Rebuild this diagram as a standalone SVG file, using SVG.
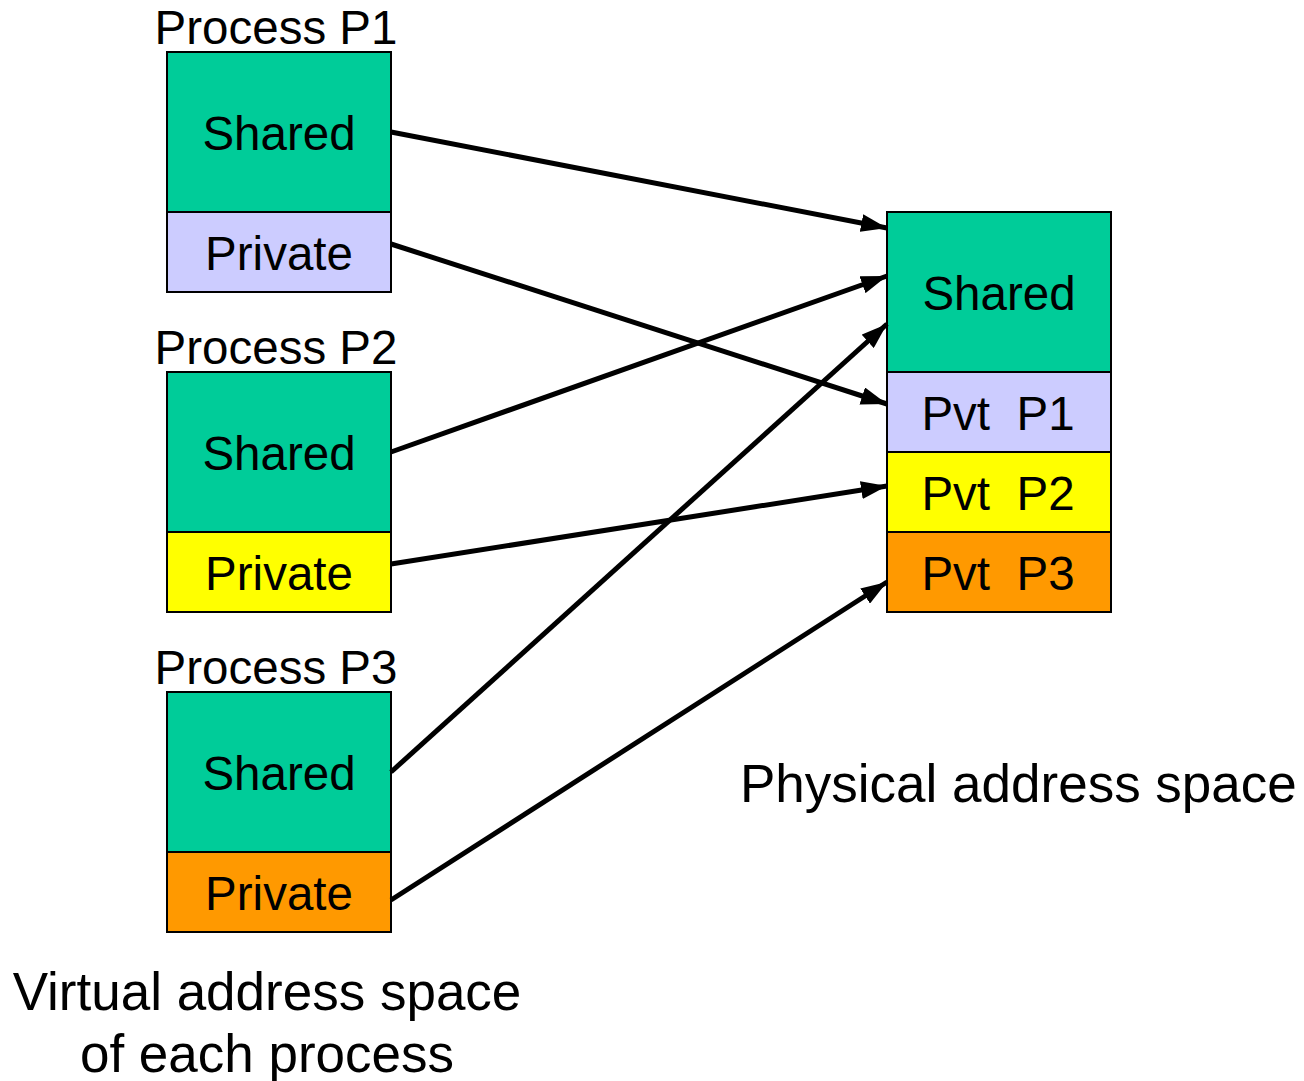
<svg xmlns="http://www.w3.org/2000/svg" width="1304" height="1081" viewBox="0 0 1304 1081">
<style>
text{font-family:"Liberation Sans",Arial,sans-serif;fill:#000;white-space:pre}
.b{font-size:47.5px;text-anchor:middle}
.l{font-size:53px}
rect{stroke:#000;stroke-width:2}
.sh{fill:#00CC99}.p1{fill:#CCCCFF}.p2{fill:#FFFF00}.p3{fill:#FF9900}
.c line{stroke:#000;stroke-width:5;marker-end:url(#ah)}
</style>
<defs>
<marker id="ah" markerUnits="userSpaceOnUse" viewBox="0 0 26 18" refX="26" refY="9" markerWidth="26" markerHeight="18" orient="auto">
<path d="M0,0 L26,9 L0,18 Z" fill="#000"/>
</marker>
</defs>
<rect width="1304" height="1081" fill="#fff" style="stroke:none"/>
<g id="vp1">
<text class="b" x="276" y="44">Process P1</text>
<rect class="sh" x="167" y="52" width="224" height="160"/>
<text class="b" x="279" y="150">Shared</text>
<rect class="p1" x="167" y="212" width="224" height="80"/>
<text class="b" x="279" y="270">Private</text>
</g>
<g id="vp2">
<text class="b" x="276" y="364">Process P2</text>
<rect class="sh" x="167" y="372" width="224" height="160"/>
<text class="b" x="279" y="470">Shared</text>
<rect class="p2" x="167" y="532" width="224" height="80"/>
<text class="b" x="279" y="590">Private</text>
</g>
<g id="vp3">
<text class="b" x="276" y="684">Process P3</text>
<rect class="sh" x="167" y="692" width="224" height="160"/>
<text class="b" x="279" y="790">Shared</text>
<rect class="p3" x="167" y="852" width="224" height="80"/>
<text class="b" x="279" y="910">Private</text>
</g>
<g id="phys">
<rect class="sh" x="887" y="212" width="224" height="160"/>
<text class="b" x="999" y="310">Shared</text>
<rect class="p1" x="887" y="372" width="224" height="80"/>
<text class="b" x="998" y="430">Pvt  P1</text>
<rect class="p2" x="887" y="452" width="224" height="80"/>
<text class="b" x="998" y="510">Pvt  P2</text>
<rect class="p3" x="887" y="532" width="224" height="80"/>
<text class="b" x="998" y="590">Pvt  P3</text>
</g>
<g id="labels">
<text class="l" x="740" y="802">Physical address space</text>
<text class="l" x="267" y="1010" text-anchor="middle">Virtual address space</text>
<text class="l" x="267" y="1072" text-anchor="middle">of each process</text>
</g>
<g class="c" id="connectors">
<line x1="391" y1="132" x2="887" y2="228"/>
<line x1="391" y1="244" x2="887" y2="404"/>
<line x1="391" y1="452" x2="887" y2="276"/>
<line x1="391" y1="564" x2="887" y2="486"/>
<line x1="391" y1="772" x2="887" y2="324"/>
<line x1="391" y1="900" x2="887" y2="582"/>
</g>
</svg>
